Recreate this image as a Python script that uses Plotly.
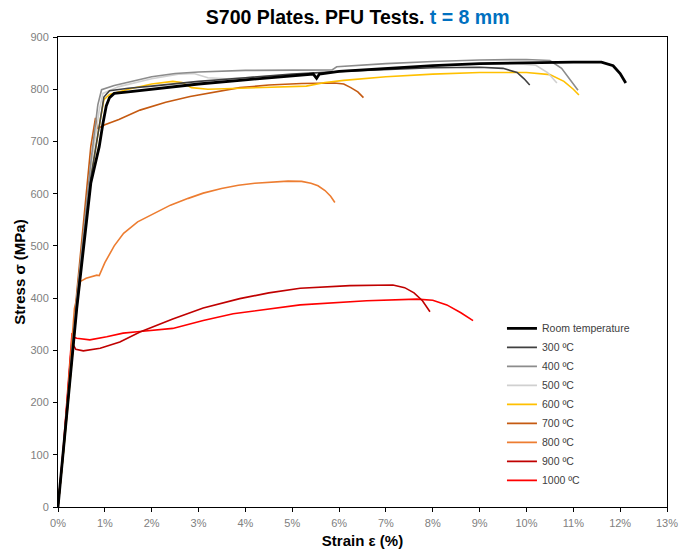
import plotly.graph_objects as go

# Engineering stress-strain curves, S700 plates, t = 8 mm (strain in %, stress in MPa)
labels = ["Room temperature", "300 ºC", "400 ºC", "500 ºC", "600 ºC",
          "700 ºC", "800 ºC", "900 ºC", "1000 ºC"]
colors = ["#000000", "#404040", "#8c8c8c", "#d0d0d0", "#ffc000",
          "#c55a11", "#ed7d31", "#c00000", "#ff0000"]
widths = [2.8, 1.6, 1.6, 1.6, 1.6, 1.6, 1.6, 1.6, 1.6]

strain_rt = [0, 0.12, 0.4, 0.7, 0.88, 0.96, 1.03, 1.1, 1.2, 1.5, 2.0, 3.0, 4.0, 5.0, 5.45,
             5.52, 5.58, 6.0, 7.0, 8.0, 9.0, 10.0, 11.0, 11.6, 11.85, 12.0, 12.12]
stress_rt = [0, 110, 380, 620, 690, 735, 768, 784, 792, 795, 800, 810, 818, 826, 829,
             821, 829, 834, 840, 845, 849, 851, 852, 852, 845, 830, 812]

strain_300 = [0, 0.12, 0.4, 0.7, 0.9, 0.98, 1.1, 1.5, 2, 3, 4, 5, 6, 7, 8, 9, 9.5, 9.8,
              9.95, 10.07]
stress_300 = [0, 110, 385, 630, 740, 785, 797, 802, 806, 815, 822, 829, 834, 838, 841,
              842, 840, 832, 820, 808]

strain_400 = [0, 0.12, 0.4, 0.7, 0.85, 0.93, 1.2, 1.6, 2.0, 2.5, 3, 4, 5, 5.85, 5.95, 7,
              8, 9, 10, 10.5, 10.75, 10.95, 11.1]
stress_400 = [0, 115, 400, 660, 770, 799, 807, 816, 824, 830, 833, 836, 837, 837, 843,
              849, 853, 856, 857, 855, 840, 815, 798]

strain_500 = [0, 0.12, 0.4, 0.7, 0.88, 0.96, 1.3, 2.0, 2.6, 2.9, 3.2, 3.6, 4, 5, 6, 7, 8,
              9, 9.8, 10.2, 10.45, 10.65]
stress_500 = [0, 112, 395, 650, 760, 792, 805, 820, 829, 830, 822, 820, 822, 828, 834,
              840, 845, 848, 849, 846, 832, 812]

strain_600 = [0, 0.12, 0.4, 0.7, 0.9, 0.98, 1.1, 1.5, 2.0, 2.45, 2.65, 2.85, 3.2, 4, 5,
              5.3, 5.7, 6.1, 7, 8, 9, 10, 10.5, 10.8, 11.0, 11.12]
stress_600 = [0, 108, 380, 630, 740, 780, 790, 800, 810, 815, 813, 803, 800, 802, 804,
              806, 813, 817, 824, 829, 832, 832, 828, 815, 800, 789]

strain_700 = [0, 0.12, 0.4, 0.7, 0.8, 0.85, 1.0, 1.3, 1.75, 2.3, 2.82, 3.4, 3.88, 4.5,
              5.2, 5.9, 6.1, 6.25, 6.4, 6.52]
stress_700 = [0, 112, 410, 690, 745, 725, 732, 742, 760, 775, 786, 796, 803, 808, 811,
              812, 810, 803, 795, 784]

strain_800 = [0, 0.12, 0.35, 0.48, 0.6, 0.75, 0.83, 0.88, 1.0, 1.2, 1.4, 1.7, 2.07, 2.4,
              2.78, 3.1, 3.49, 3.85, 4.2, 4.6, 4.91, 5.2, 5.4, 5.55, 5.7, 5.82, 5.91]
stress_800 = [0, 110, 380, 432, 438, 442, 444, 443, 468, 500, 524, 546, 563, 578, 591,
              601, 610, 616, 620, 622.5, 624, 623.5, 620, 615, 606, 595, 583]

strain_900 = [0, 0.12, 0.28, 0.33, 0.38, 0.54, 0.9, 1.32, 1.75, 2.1, 2.45, 3.1, 3.88, 4.5,
              5.17, 6.23, 7.15, 7.4, 7.6, 7.78, 7.94]
stress_900 = [0, 115, 300, 310, 302, 299, 304, 316, 335, 348, 360, 381, 399, 410, 419,
              424, 425, 420, 410, 395, 374]

strain_1000 = [0, 0.12, 0.3, 0.34, 0.4, 0.68, 1.04, 1.39, 1.75, 2.45, 3.1, 3.74, 5.17,
               6.59, 7.66, 8.0, 8.3, 8.6, 8.86]
stress_1000 = [0, 120, 333, 325, 323, 320, 326, 333, 336, 342, 357, 370, 387, 395, 398,
               396, 387, 372, 357]

strains = [strain_rt, strain_300, strain_400, strain_500, strain_600,
           strain_700, strain_800, strain_900, strain_1000]
stresses = [stress_rt, stress_300, stress_400, stress_500, stress_600,
            stress_700, stress_800, stress_900, stress_1000]

x_ticks = list(range(0, 14))
x_tick_text = [f"{v}%" for v in x_ticks]
y_ticks = list(range(0, 1000, 100))

fig = go.Figure()
# draw the hottest tests first so the room-temperature curve sits on top
for i in reversed(range(len(labels))):
    fig.add_trace(go.Scatter(
        x=strains[i], y=stresses[i], mode="lines", name=labels[i],
        line=dict(color=colors[i], width=widths[i]),
        legendrank=i + 1,
    ))

font_family = "Liberation Sans, Arial, sans-serif"
axis_common = dict(
    showgrid=False, zeroline=False, showline=True, linecolor="#000000", linewidth=1,
    mirror=True, ticks="outside", ticklen=4, tickcolor="#000000", automargin=False,
    tickfont=dict(family=font_family, size=11, color="#808080"),
)

fig.update_layout(
    width=680, height=550,
    margin=dict(l=58, r=13, t=37, b=43),
    paper_bgcolor="#ffffff", plot_bgcolor="#ffffff",
    title=dict(
        text="<b>S700 Plates. PFU Tests. <span style='color:#0070c0'>t = 8 mm</span></b>",
        x=0.526, xanchor="center", y=0.968, yanchor="middle",
        font=dict(family=font_family, size=19.5, color="#000000"),
    ),
    xaxis=dict(
        range=[0, 13], tickvals=x_ticks, ticktext=x_tick_text, ticklabelstandoff=2,
        title=dict(text="<b>Strain ε (%)</b>", standoff=7,
                   font=dict(family=font_family, size=15, color="#000000")),
        **axis_common,
    ),
    yaxis=dict(
        range=[0, 900], tickvals=y_ticks, ticklabelstandoff=2,
        title=dict(text="<b>Stress σ (MPa)</b>", standoff=1,
                   font=dict(family=font_family, size=15, color="#000000")),
        **axis_common,
    ),
    legend=dict(
        x=0.729, y=0.411, xanchor="left", yanchor="top",
        bgcolor="rgba(0,0,0,0)", borderwidth=0,
        font=dict(family=font_family, size=10.5, color="#404040"),
        itemwidth=30, tracegroupgap=0,
    ),
    showlegend=True,
)

fig.write_html("out.html")
